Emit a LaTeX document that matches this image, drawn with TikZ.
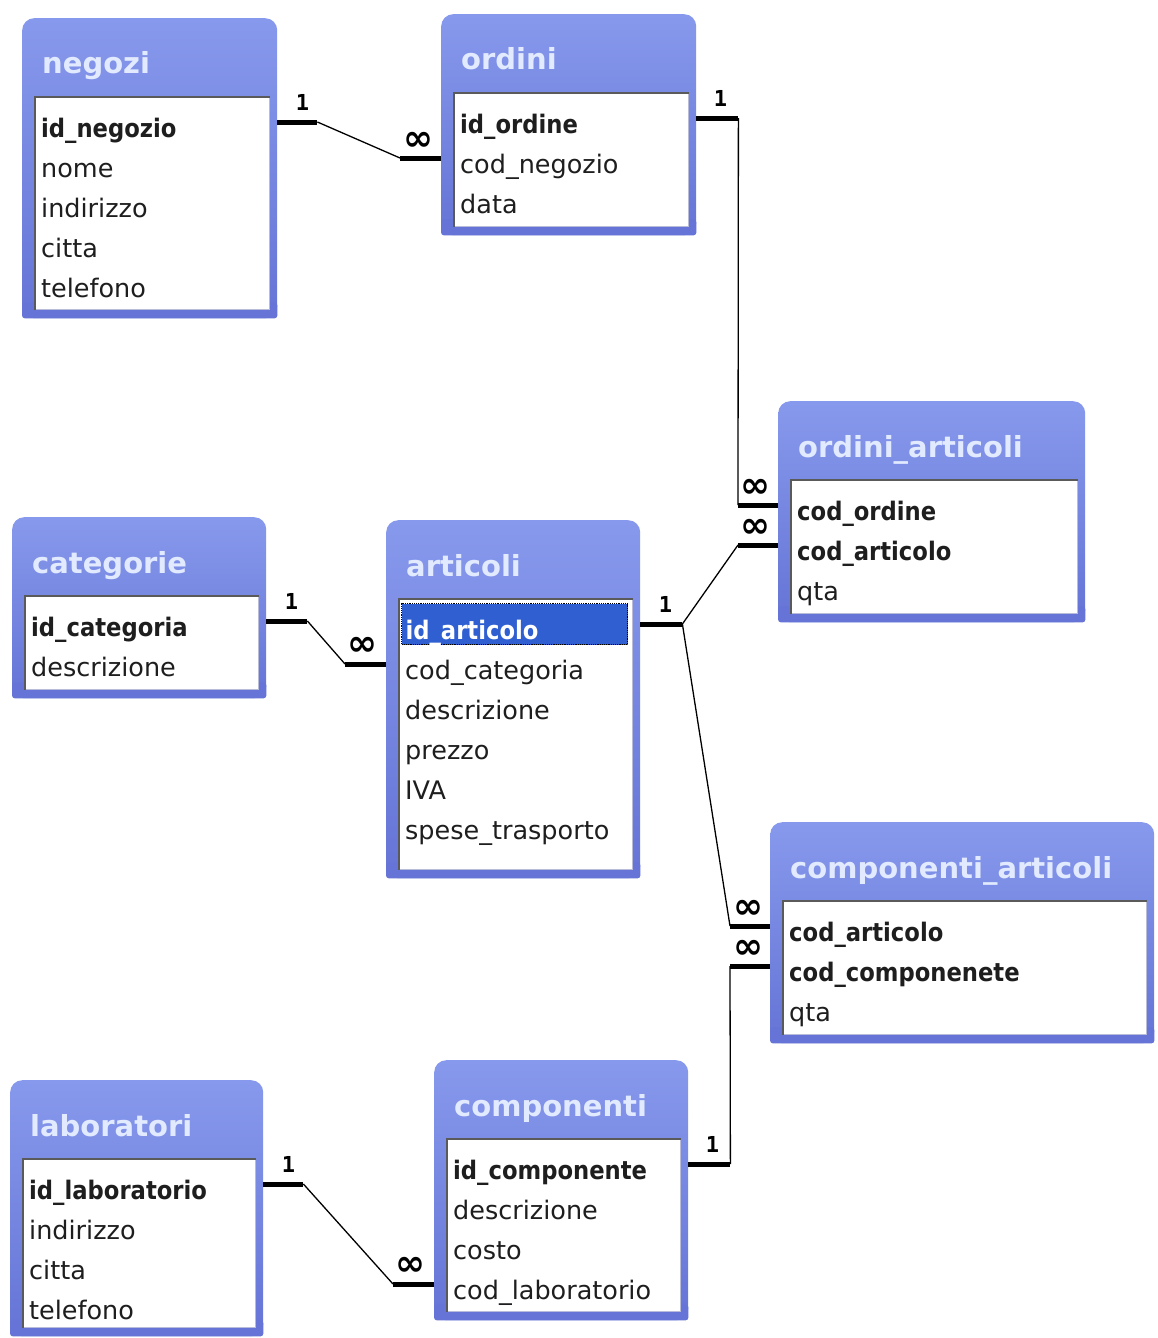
\documentclass[tikz,border=0pt]{standalone}
\usepackage{fontspec}
\setmainfont{DejaVu Sans}
\newfontfamily\fieldfont{DejaVu Sans}
\newfontfamily\keyfont[FakeStretch=0.89]{DejaVu Sans Bold}
\newfontfamily\titlefont{DejaVu Sans Bold}
\newfontfamily\markfont{DejaVu Sans Mono Bold}
\usetikzlibrary{calc}
\definecolor{frametop}{HTML}{8799EC}
\definecolor{framebot}{HTML}{6574D6}
\definecolor{titletext}{HTML}{E2EAFF}
\definecolor{selblue}{HTML}{2F5FD0}
\definecolor{inedge}{HTML}{5A5A5A}
\definecolor{inedgelight}{HTML}{B8BCD8}
\definecolor{fieldtext}{HTML}{1E1E1E}
\tikzset{
  tframe/.style={rectangle, anchor=north west, inner sep=0, rounded corners=12,
    top color=frametop, bottom color=framebot, draw=none},
  inbox/.style={rectangle, anchor=north west, inner sep=0, fill=white, draw=inedgelight, line width=1.2pt},
  ttitle/.style={anchor=base west, inner sep=0, text=titletext, font=\titlefont\fontsize{29}{32}\selectfont},
  fieldrow/.style={anchor=west, inner xsep=0, inner ysep=0, minimum height=40, text height=35, text depth=5,
    text=fieldtext, font=\fieldfont\fontsize{25.5}{30}\selectfont},
  keyf/.style={font=\keyfont\fontsize{25.5}{30}\selectfont},
  bar/.style={line width=5pt},
  rel/.style={line width=1.3pt},
  onelbl/.style={inner sep=0, font=\markfont\fontsize{22}{22}\selectfont},
  manylbl/.style={inner sep=0, font=\titlefont\fontsize{36}{36}\selectfont},
}
% #1 name, #2 x, #3 y, #4 width, #5 height, #6 title
\newcommand\dbtable[6]{%
  \node[tframe, minimum width=#4, minimum height=#5] (#1) at (#2,#3) {};
  \fill[framebot, rounded corners=3] ($(#1.south west)+(0,-16)$) rectangle (#1.south east);
  \node[inbox, minimum width=#4-21, minimum height=#5-88] (#1-in) at (#2+13,#3+79) {};
  \draw[inedge, line width=1.6pt] (#1-in.south west) -- (#1-in.north west) -- (#1-in.north east);
  \node[ttitle] (#1-t) at (#2+20,#3+56) {#6};
}
% #1 options, #2 table, #3 row, #4 text
\newcommand\fld[4][]{%
  \node[fieldrow,#1] (#2-#3) at ($(#2-in.north west)+(6,25+40*#3-40)$) {#4};
}
\begin{document}
\begin{tikzpicture}[x=1pt,y=-1pt]
\useasboundingbox[fill=white] (0,0) rectangle (1157,1338);

% negozi
\dbtable{negozi}{22}{18}{255}{300}{negozi}
\fld[keyf]{negozi}{1}{id\_negozio}
\fld{negozi}{2}{nome}
\fld{negozi}{3}{indirizzo}
\fld{negozi}{4}{citta}
\fld{negozi}{5}{telefono}

% ordini
\dbtable{ordini}{441}{14}{255}{221}{ordini}
\fld[keyf]{ordini}{1}{id\_ordine}
\fld{ordini}{2}{cod\_negozio}
\fld{ordini}{3}{data}

% ordini_articoli
\dbtable{oa}{778}{401}{307}{221}{ordini\_articoli}
\fld[keyf]{oa}{1}{cod\_ordine}
\fld[keyf]{oa}{2}{cod\_articolo}
\fld{oa}{3}{qta}

% categorie
\dbtable{categorie}{12}{517}{254}{181}{categorie}
\fld[keyf]{categorie}{1}{id\_categoria}
\fld{categorie}{2}{descrizione}

% articoli
\dbtable{articoli}{386}{520}{254}{358}{articoli}
\node[fieldrow, keyf, anchor=west, fill=selblue, text=white, draw=black, densely dotted, line width=1.2pt,
  minimum width=226, minimum height=41, inner xsep=4, text width=218]
  (articoli-1) at ($(articoli-in.north west)+(2,25)$) {id\_articolo};
\fld{articoli}{2}{cod\_categoria}
\fld{articoli}{3}{descrizione}
\fld{articoli}{4}{prezzo}
\fld{articoli}{5}{IVA}
\fld{articoli}{6}{spese\_trasporto}

% componenti_articoli
\dbtable{ca}{770}{822}{384}{221}{componenti\_articoli}
\fld[keyf]{ca}{1}{cod\_articolo}
\fld[keyf]{ca}{2}{cod\_componenete}
\fld{ca}{3}{qta}

% laboratori
\dbtable{laboratori}{10}{1080}{253}{256}{laboratori}
\fld[keyf]{laboratori}{1}{id\_laboratorio}
\fld{laboratori}{2}{indirizzo}
\fld{laboratori}{3}{citta}
\fld{laboratori}{4}{telefono}

% componenti
\dbtable{componenti}{434}{1060}{254}{260}{componenti}
\fld[keyf]{componenti}{1}{id\_componente}
\fld{componenti}{2}{descrizione}
\fld{componenti}{3}{costo}
\fld{componenti}{4}{cod\_laboratorio}

% relation negozi -> ordini
\draw[bar] (negozi.east |- negozi-1) -- ++(40,0) coordinate (r1a);
\draw[bar] (ordini.west |- ordini-2) -- ++(-41,0) coordinate (r1b);
\draw[rel] (r1a) -- (r1b);
\node[onelbl] (r1one) at ($(negozi.east |- negozi-1)+(25,-20)$) {1};
\node[manylbl] (r1many) at ($(r1b)+(18,-17)$) {∞};

% relation ordini -> ordini_articoli
\draw[bar] (ordini.east |- ordini-1) -- ++(42,0) coordinate (r2a);
\draw[bar] (oa.west |- oa-1) -- ++(-40,0) coordinate (r2b);
\draw[rel] (r2a) -- (r2b);
\node[onelbl] (r2one) at ($(ordini.east |- ordini-1)+(24,-20)$) {1};
\node[manylbl] (r2many) at ($(r2b)+(17,-17)$) {∞};

% relation articoli -> ordini_articoli
\draw[bar] (articoli.east |- articoli-1) -- ++(42,0) coordinate (r3a);
\draw[bar] (oa.west |- oa-2) -- ++(-40,0) coordinate (r3b);
\draw[rel] (r3a) -- (r3b);
\node[onelbl] (r3one) at ($(articoli.east |- articoli-1)+(25,-20)$) {1};
\node[manylbl] (r3many) at ($(r3b)+(17,-17)$) {∞};

% relation articoli -> componenti_articoli
\draw[bar] (ca.west |- ca-1) -- ++(-40,0) coordinate (r4b);
\draw[rel] (r3a) -- (r4b);
\node[manylbl] (r4many) at ($(r4b)+(18,-17)$) {∞};

% relation componenti -> componenti_articoli
\draw[bar] (componenti.east |- componenti-1) -- ++(42,0) coordinate (r5a);
\draw[bar] (ca.west |- ca-2) -- ++(-40,0) coordinate (r5b);
\draw[rel] (r5a) -- (r5b);
\node[onelbl] (r5one) at ($(componenti.east |- componenti-1)+(24,-20)$) {1};
\node[manylbl] (r5many) at ($(r5b)+(18,-17)$) {∞};

% relation categorie -> articoli
\draw[bar] (categorie.east |- categorie-1) -- ++(41,0) coordinate (r6a);
\draw[bar] (articoli.west |- articoli-2) -- ++(-41,0) coordinate (r6b);
\draw[rel] (r6a) -- (r6b);
\node[onelbl] (r6one) at ($(categorie.east |- categorie-1)+(25,-20)$) {1};
\node[manylbl] (r6many) at ($(r6b)+(17,-18)$) {∞};

% relation laboratori -> componenti
\draw[bar] (laboratori.east |- laboratori-1) -- ++(40,0) coordinate (r7a);
\draw[bar] (componenti.west |- componenti-4) -- ++(-41,0) coordinate (r7b);
\draw[rel] (r7a) -- (r7b);
\node[onelbl] (r7one) at ($(laboratori.east |- laboratori-1)+(25,-20)$) {1};
\node[manylbl] (r7many) at ($(r7b)+(17,-18)$) {∞};
\end{tikzpicture}
\end{document}
